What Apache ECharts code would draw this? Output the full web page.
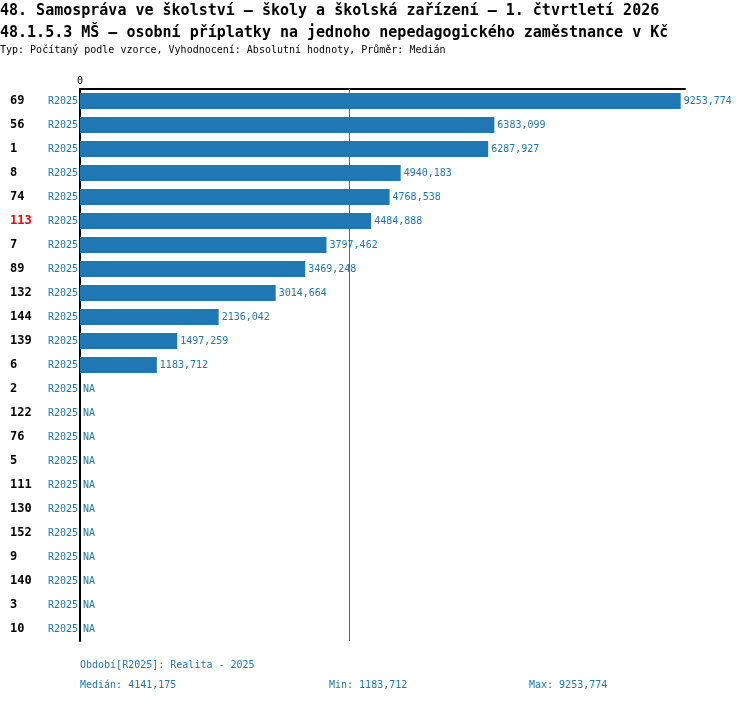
<!DOCTYPE html>
<html>
<head>
    <meta charset="utf-8">
    <title>ECharts</title>
    <script src="https://cdn.jsdelivr.net/npm/echarts@6/dist/echarts.min.js"></script>
    <style>
        html, body { margin: 0; padding: 0; background: #fff; }
    </style>
</head>
<body>
<div id="main" style="width: 750px;height:704px;"></div>
<script type="text/javascript">
    // data ---------------------
    var categories = ['69', '56', '1', '8', '74', '113', '7', '89', '132', '144', '139', '6',
        '2', '122', '76', '5', '111', '130', '152', '9', '140', '3', '10'];
    var period = 'R2025';
    var values = [9253.774, 6383.099, 6287.927, 4940.183, 4768.538, 4484.888, 3797.462, 3469.248,
        3014.664, 2136.042, 1497.259, 1183.712,
        null, null, null, null, null, null, null, null, null, null, null];
    var highlight = '113';
    var xTicks = [0];

    var blue = '#1f77b4';
    var font = 'DejaVu Sans Mono';

    function fmt(v) {
        return v.toFixed(3).replace('.', ',');
    }

    var known = values.filter(function (v) { return v !== null; });
    var sorted = known.slice().sort(function (a, b) { return a - b; });
    var n = sorted.length;
    var median = n % 2 ? sorted[(n - 1) / 2] : (sorted[n / 2 - 1] + sorted[n / 2]) / 2;
    var minV = sorted[0];
    var maxV = sorted[n - 1];

    var seriesData = values.map(function (v) {
        return v === null ? { value: 0, na: true } : { value: v };
    });

    var myChart = echarts.init(document.getElementById('main'));

    var option = {
        animation: false,
        textStyle: { fontFamily: font },
        grid: { left: 80, right: 65, top: 89, height: 552 },
        xAxis: {
            type: 'value',
            position: 'top',
            min: 0,
            max: 9320,
            interval: 9320,
            axisLine: { show: true, lineStyle: { color: '#000', width: 2 } },
            axisTick: { show: false },
            splitLine: { show: false },
            axisLabel: {
                fontFamily: font, fontSize: 10, color: '#000', margin: 3,
                formatter: function (v) { return xTicks.indexOf(v) >= 0 ? String(v) : ''; }
            }
        },
        yAxis: {
            type: 'category',
            inverse: true,
            data: categories,
            axisLine: { show: true, lineStyle: { color: '#000', width: 2 } },
            axisTick: { show: false },
            axisLabel: {
                margin: 2,
                formatter: function (v) {
                    return (v === highlight ? '{h|' + v + '}' : '{n|' + v + '}') + '{r|' + period + '}';
                },
                rich: {
                    n: { fontFamily: font, fontSize: 12, fontWeight: 'bold', color: '#000', width: 37, align: 'left' },
                    h: { fontFamily: font, fontSize: 12, fontWeight: 'bold', color: '#ff0000', width: 37, align: 'left' },
                    r: { fontFamily: font, fontSize: 10, color: blue, width: 31, align: 'right' }
                }
            }
        },
        series: [
            {
                type: 'bar',
                data: seriesData,
                barWidth: 16,
                itemStyle: { color: blue },
                label: {
                    show: true,
                    position: 'right',
                    distance: 3,
                    fontFamily: font,
                    fontSize: 10,
                    color: blue,
                    formatter: function (p) { return p.data.na ? 'NA' : fmt(p.value); }
                },
                markLine: {
                    silent: true,
                    symbol: 'none',
                    label: { show: false },
                    lineStyle: { color: blue, width: 1, type: 'solid', opacity: 1 },
                    emphasis: { disabled: true },
                    data: [{ xAxis: median }]
                }
            }
        ],
        graphic: [
            { type: 'text', left: 0, top: 4, style: { text: '48. Samospráva ve školství – školy a školská zařízení – 1. čtvrtletí 2026', font: 'bold 15px "DejaVu Sans Mono"', fill: '#000' } },
            { type: 'text', left: 0, top: 26, style: { text: '48.1.5.3 MŠ – osobní příplatky na jednoho nepedagogického zaměstnance v Kč', font: 'bold 15px "DejaVu Sans Mono"', fill: '#000' } },
            { type: 'text', left: 0, top: 45, style: { text: 'Typ: Počítaný podle vzorce, Vyhodnocení: Absolutní hodnoty, Průměr: Medián', font: '10px "DejaVu Sans Mono"', fill: '#000' } },
            { type: 'text', left: 80, top: 660, style: { text: 'Období[' + period + ']: Realita - 2025', font: '10px "DejaVu Sans Mono"', fill: blue } },
            { type: 'text', left: 80, top: 680, style: { text: 'Medián: ' + fmt(median), font: '10px "DejaVu Sans Mono"', fill: blue } },
            { type: 'text', left: 329, top: 680, style: { text: 'Min: ' + fmt(minV), font: '10px "DejaVu Sans Mono"', fill: blue } },
            { type: 'text', left: 529, top: 680, style: { text: 'Max: ' + fmt(maxV), font: '10px "DejaVu Sans Mono"', fill: blue } }
        ]
    };
    myChart.setOption(option);
</script>
</body>
</html>
